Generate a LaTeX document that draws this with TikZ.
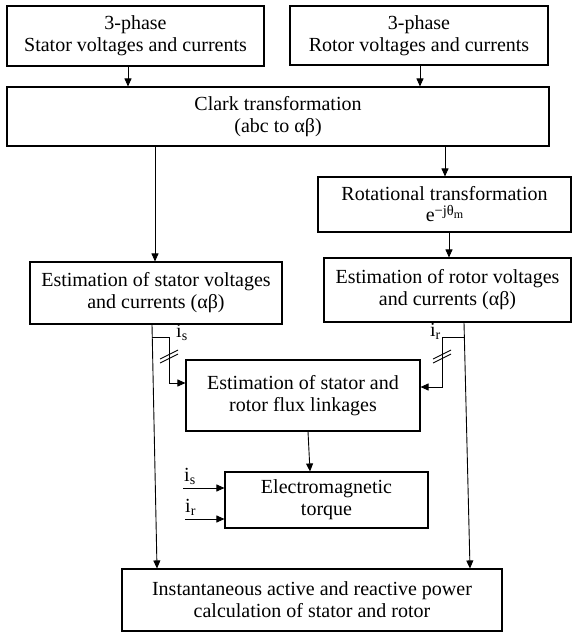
\documentclass[tikz,border=0pt]{standalone}
\usepackage{fontspec}
\setmainfont{Liberation Serif}
\usetikzlibrary{arrows.meta}
\begin{document}
\begin{tikzpicture}[x=1pt,y=-1pt,
  box/.style={draw, line width=1.1pt, inner sep=0pt, align=center,
    font=\fontsize{20}{22}\selectfont},
  conn/.style={line width=0.9pt, -{Triangle[length=8pt,width=7pt]}},
  wire/.style={line width=0.9pt},
  lbl/.style={inner sep=0pt, font=\fontsize{20}{22}\selectfont}]
\useasboundingbox (0,0) rectangle (572,634);

% boxes
\node[box, minimum width=257pt, minimum height=60pt] (sin) at (135.5,36)
  {3-phase\\Stator voltages and currents};
\node[box, minimum width=258pt, minimum height=59pt] (rin) at (419,35.5)
  {3-phase\\Rotor voltages and currents};
\node[box, minimum width=542pt, minimum height=59pt] (clark) at (278,116.5)
  {Clark transformation\\(abc to αβ)};
\node[box, minimum width=253pt, minimum height=55pt] (rot) at (444.5,204.5)
  {Rotational transformation\\[-1pt]e\raisebox{0.3em}{\fontsize{14.5}{14.5}\selectfont −jθ\raisebox{-0.2em}{\fontsize{12}{12}\selectfont m}}};
\node[box, minimum width=252pt, minimum height=62pt] (sest) at (156,293)
  {Estimation of stator voltages\\and currents (αβ)};
\node[box, minimum width=247pt, minimum height=64pt] (rest) at (447.5,290)
  {Estimation of rotor voltages\\and currents (αβ)};
\node[box, minimum width=234pt, minimum height=71pt] (flux) at (303,395.5)
  {Estimation of stator and\\rotor flux linkages};
\node[box, minimum width=203pt, minimum height=56pt] (em) at (326.5,500)
  {Electromagnetic\\torque};
\node[box, minimum width=380pt, minimum height=62pt] (pq) at (312,600)
  {Instantaneous active and reactive power\\calculation of stator and rotor};

% reference x positions
\coordinate (x1) at (128,0);
\coordinate (x2) at (420,0);
\coordinate (x3) at (155,0);
\coordinate (x4) at (445,0);
\coordinate (x5) at (449,0);
\coordinate (xl) at (152,0);
\coordinate (xl2) at (157,0);
\coordinate (xr) at (464,0);
\coordinate (xr2) at (470,0);
\coordinate (xf) at (308,0);
\coordinate (xf2) at (310,0);

% straight connectors
\draw[conn] (sin.south -| x1) -- (clark.north -| x1);
\draw[conn] (rin.south -| x2) -- (clark.north -| x2);
\draw[conn] (clark.south -| x3) -- (sest.north -| x3);
\draw[conn] (clark.south -| x4) -- (rot.north -| x4);
\draw[conn] (rot.south -| x5) -- (rest.north -| x5);
\draw[conn] (sest.south -| xl) -- (pq.north -| xl2);
\draw[conn] (rest.south -| xr) -- (pq.north -| xr2);
\draw[conn] (flux.south -| xf) -- (em.north -| xf2);

% branches to flux estimation
\coordinate (bs) at (152.3,337);
\coordinate (bsk) at (169,383);
\draw[conn] (bs) -| (bsk) -- (flux.west |- bsk);
\coordinate (br) at (464.3,337);
\coordinate (brk) at (442,387);
\draw[conn] (br) -| (brk) -- (flux.east |- brk);

% double slashes
\coordinate (sl1) at (169,354.5);
\coordinate (sl2) at (169,358.5);
\coordinate (sr1) at (442,354.5);
\coordinate (sr2) at (442,358.5);
\foreach \c in {sl1,sl2,sr1,sr2}
  \draw[wire] ([shift={(-9,4.5)}]\c) -- ([shift={(9,-4.5)}]\c);

\node[lbl, anchor=south west] (lis) at (176,341) {i\textsubscript{s}};
\node[lbl, anchor=south east] (lir) at (441,340) {i\textsubscript{r}};

% torque inputs
\coordinate (eis) at (183,488);
\coordinate (eir) at (185,519);
\draw[conn] (eis) -- (em.west |- eis);
\draw[conn] (eir) -- (em.west |- eir);
\node[lbl, anchor=south west] (lis2) at (184,485) {i\textsubscript{s}};
\node[lbl, anchor=south west] (lir2) at (185,516) {i\textsubscript{r}};
\end{tikzpicture}
\end{document}
